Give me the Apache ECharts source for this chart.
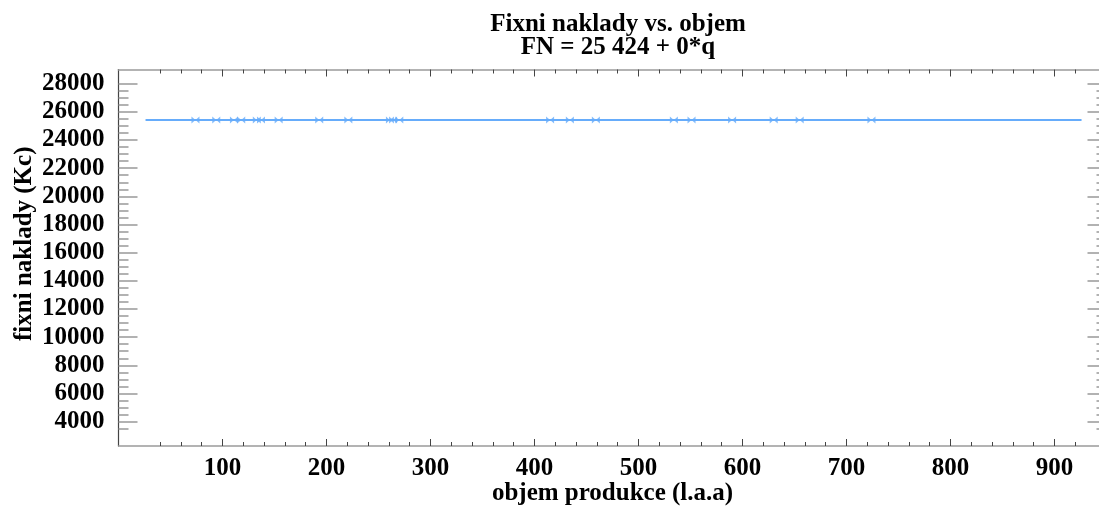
<!DOCTYPE html>
<html>
<head>
<meta charset="utf-8">
<script src="https://cdn.jsdelivr.net/npm/echarts@6/dist/echarts.min.js"></script>
<style>
html,body{margin:0;padding:0;background:#fff;}
#chart{width:1099px;height:506px;}
</style>
</head>
<body>
<div id="chart"></div>
<script>
// ---- data ----
var titleLines = ['Fixni naklady vs. objem', 'FN = 25 424 + 0*q'];
var xName = 'objem produkce (l.a.a)';
var yName = 'fixni naklady (Kc)';
var fixedCost = 25424;
var volumes = [74, 94, 111, 118, 133, 137, 154, 193, 221, 261, 264, 270, 415, 434, 459, 534, 551, 590, 630, 655, 724];
var lineStart = 26;
var lineEnd = 926;
var xMajorTicks = [100, 200, 300, 400, 500, 600, 700, 800, 900];
var xMinorTicks = [40, 60, 80, 120, 140, 160, 180, 220, 240, 260, 280, 320, 340, 360, 380, 420, 440, 460, 480, 520, 540, 560, 580, 620, 640, 660, 680, 720, 740, 760, 780, 820, 840, 860, 880, 920];
var yMajorTicks = [4000, 6000, 8000, 10000, 12000, 14000, 16000, 18000, 20000, 22000, 24000, 26000, 28000];
var yMinorTicks = [3500, 4500, 5000, 5500, 6500, 7000, 7500, 8500, 9000, 9500, 10500, 11000, 11500, 12500, 13000, 13500, 14500, 15000, 15500, 16500, 17000, 17500, 18500, 19000, 19500, 20500, 21000, 21500, 22500, 23000, 23500, 24500, 25000, 25500, 26500, 27000, 27500];

// ---- chart ----
var FONT = 'Liberation Serif';
var lineColor = '#66acfb';
var xMin = 0, xMax = 950, yMin = 2270, yMax = 29010;
var labelStyle = {fontFamily: FONT, fontWeight: 'bold', fontSize: 25, color: '#000'};
function plain(v) { return String(v); }

function xAx(pos, ticks, len, showLine, labels, extra) {
  var a = {
    type: 'value', position: pos, min: xMin, max: xMax,
    splitLine: {show: false},
    axisLine: {show: showLine, onZero: false, lineStyle: {color: '#9a9a9a', width: 1.5}},
    axisTick: {show: true, inside: true, length: len, customValues: ticks, lineStyle: {color: '#444', width: 1}},
    axisLabel: labels ? Object.assign({customValues: xMajorTicks, margin: 10, formatter: plain}, labelStyle) : {show: false}
  };
  return Object.assign(a, extra || {});
}
function yAx(pos, ticks, len, showLine, labels, extra) {
  var a = {
    type: 'value', position: pos, min: yMin, max: yMax,
    splitLine: {show: false},
    axisLine: {show: showLine, onZero: false, lineStyle: {color: '#444', width: 1.2}},
    axisTick: {show: true, inside: true, length: len, customValues: ticks, lineStyle: {color: '#999', width: 1.5}},
    axisLabel: labels ? Object.assign({customValues: yMajorTicks, margin: 14, formatter: plain}, labelStyle) : {show: false}
  };
  return Object.assign(a, extra || {});
}

var option = {
  animation: false,
  backgroundColor: '#fff',
  title: {
    text: titleLines.join('\n'),
    left: 613, top: 8, textAlign: 'center',
    textStyle: {fontFamily: FONT, fontWeight: 'bold', fontSize: 25, lineHeight: 23, color: '#000'}
  },
  grid: {left: 118.5, right: -7.5, top: 69.5, bottom: 60, containLabel: false, outerBoundsMode: 'none'},
  xAxis: [
    xAx('bottom', xMajorTicks, 7, true, true, {
      name: xName, nameLocation: 'middle', nameGap: 35, nameMoveOverlap: false,
      nameTextStyle: {fontFamily: FONT, fontWeight: 'bold', fontSize: 25, color: '#000', verticalAlign: 'top'}
    }),
    xAx('bottom', xMinorTicks, 4, false, false),
    xAx('top', xMajorTicks, 7, true, false),
    xAx('top', xMinorTicks, 4, false, false)
  ],
  yAxis: [
    yAx('left', yMajorTicks, 19, true, true, {
      name: yName, nameLocation: 'middle', nameGap: 81, nameRotate: 90, nameMoveOverlap: false,
      nameTextStyle: {fontFamily: FONT, fontWeight: 'bold', fontSize: 25, color: '#000', padding: [0, 0, 0, 28]}
    }),
    yAx('left', yMinorTicks, 10, false, false),
    yAx('right', yMajorTicks, 19, true, false),
    yAx('right', yMinorTicks, 10, false, false)
  ],
  series: [
    {
      type: 'line', xAxisIndex: 0, yAxisIndex: 0,
      data: [[lineStart, fixedCost], [lineEnd, fixedCost]],
      showSymbol: false, symbol: 'none',
      lineStyle: {color: lineColor, width: 2}
    },
    {
      type: 'scatter', xAxisIndex: 0, yAxisIndex: 0,
      data: volumes.map(function (v) { return [v, fixedCost]; }),
      symbol: 'path://M0,0L0,10L10,0L10,10Z',
      symbolSize: [8, 7],
      itemStyle: {color: lineColor}
    }
  ]
};

var chart = echarts.init(document.getElementById('chart'), null, {renderer: 'canvas'});
chart.setOption(option);
</script>
</body>
</html>
